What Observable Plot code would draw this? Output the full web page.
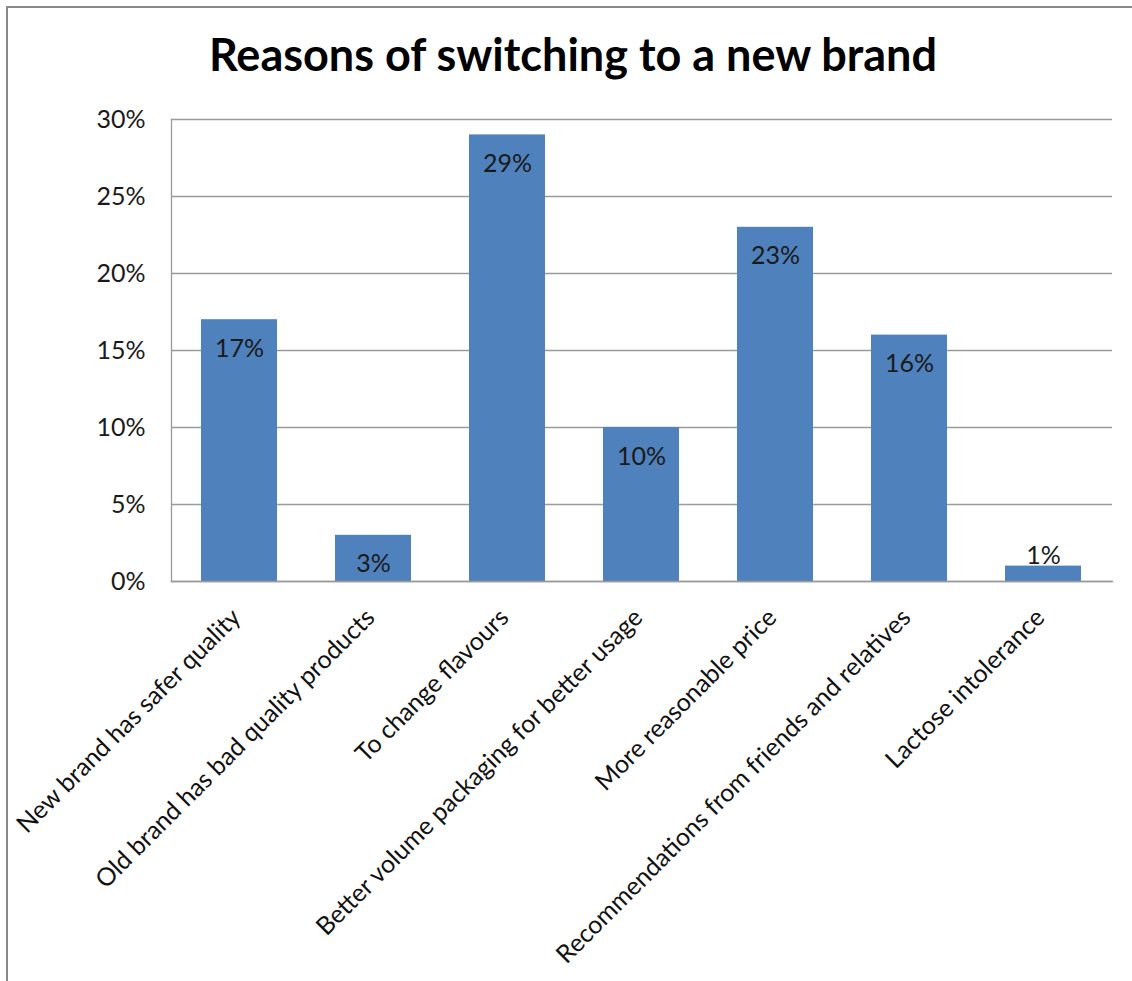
<!DOCTYPE html>
<html>
<head>
<meta charset="utf-8">
<script src="https://cdn.jsdelivr.net/npm/d3@7"></script>
<script src="https://cdn.jsdelivr.net/npm/@observablehq/plot@0.6"></script>
<style>
  html, body { margin: 0; padding: 0; background: #fff; }
  #wrap { position: relative; width: 1132px; height: 981px; overflow: hidden; font-family: Lato, "Open Sans", sans-serif; }
  #frame { position: absolute; left: 6px; top: 6px; width: 1140px; height: 1000px; border-left: 2px solid #898989; border-top: 2px solid #898989; box-sizing: border-box; }
  #title { position: absolute; left: 0; top: 0; width: 1146px; height: 100px; text-align: center; font-weight: bold; font-size: 45px; line-height: 1; padding-top: 32px; box-sizing: border-box; color: #000; }
  #chart { position: absolute; left: 0; top: 100px; }
</style>
</head>
<body>
<div id="wrap">
  <div id="frame"></div>
  <div id="title">Reasons of switching to a new brand</div>
  <div id="chart"></div>
</div>
<script>
const categories = [
  "New brand has safer quality",
  "Old brand has bad quality products",
  "To change flavours",
  "Better volume packaging for better usage",
  "More reasonable price",
  "Recommendations from friends and relatives",
  "Lactose intolerance"
];
const values = [0.17, 0.03, 0.29, 0.10, 0.23, 0.16, 0.01];
const yTicks = [0, 0.05, 0.10, 0.15, 0.20, 0.25, 0.30];

const data = categories.map((c, i) => ({category: c, value: values[i]}));
const pct = d3.format(".0%");
const font = "Lato, 'Open Sans', sans-serif";

const chart = Plot.plot({
  width: 1132,
  height: 881,
  marginTop: 19,
  marginBottom: 400,
  marginLeft: 171,
  marginRight: 20,
  style: {fontFamily: font, fontSize: "25px", color: "#1a1a1a", background: "transparent"},
  x: {domain: categories, paddingInner: 0.43, paddingOuter: 0.215, label: null},
  y: {domain: [0, 0.30], label: null},
  marks: [
    Plot.gridY(yTicks, {stroke: "#9a9a9a", strokeOpacity: 1, strokeWidth: 1.3}),
    Plot.frame({anchor: "left", stroke: "#9a9a9a", strokeWidth: 1.3}),
    Plot.barY(data, {x: "category", y: "value", fill: "#4F81BD"}),
    Plot.frame({anchor: "bottom", stroke: "#9a9a9a", strokeWidth: 1.3}),
    Plot.axisY(yTicks, {tickSize: 0, tickPadding: 26, tickFormat: pct, fontSize: 25, fill: "#1a1a1a", label: null}),
    Plot.axisX({tickSize: 0, tickRotate: -45, tickPadding: 32, dx: -3, fontSize: 25, fill: "#111", label: null}),
    Plot.text(data.filter(d => d.value >= 0.02), {x: "category", y: "value", text: d => pct(d.value), dy: 29, fontSize: 25, fill: "#1a1a1a"}),
    Plot.text(data.filter(d => d.value < 0.02), {x: "category", y: "value", text: d => pct(d.value), dy: -10, fontSize: 25, fill: "#1a1a1a"})
  ]
});
document.getElementById("chart").appendChild(chart);
</script>
</body>
</html>
